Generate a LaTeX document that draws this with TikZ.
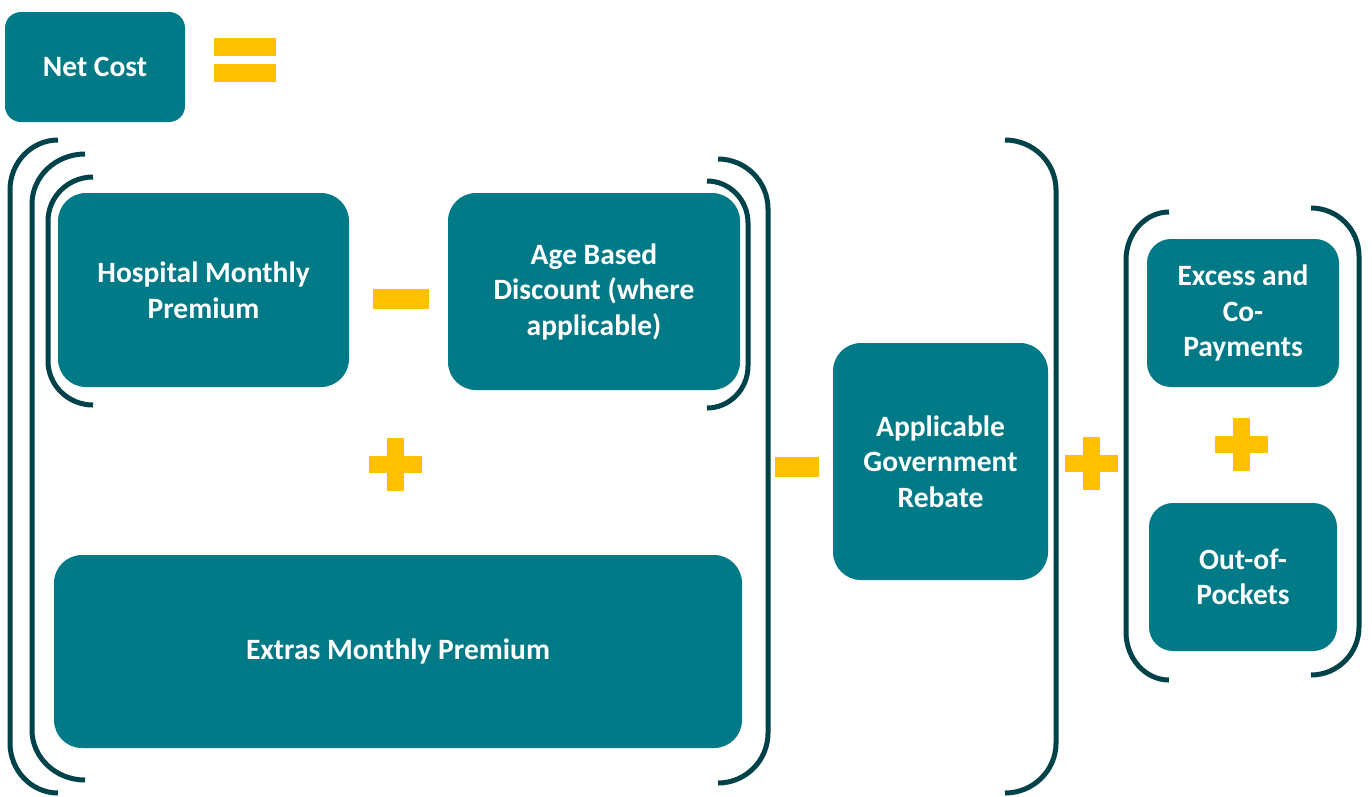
\documentclass[tikz,border=0pt]{standalone}
\usepackage{fontspec}
\setmainfont{Carlito}
\definecolor{boxc}{HTML}{007A87}
\definecolor{brc}{HTML}{00424A}
\definecolor{opc}{HTML}{FFC000}
\newcommand\brk[5]{% xe, xv, ytop, ybot, r
  \draw[brline] (#1,#3) .. controls ({#1-0.552*(#1-#2)},#3) and (#2,{#3+0.448*#5}) .. (#2,{#3+#5})
    -- (#2,{#4-#5}) .. controls (#2,{#4-0.448*#5}) and ({#1-0.552*(#1-#2)},#4) .. (#1,#4);}
\newcommand\opplus[2]{% center x, y
  \fill[opc] ({#1-26.5},{#2-8.5}) rectangle ({#1+26.5},{#2+8.5});
  \fill[opc] ({#1-8.5},{#2-26.5}) rectangle ({#1+8.5},{#2+26.5});}
\begin{document}
\begin{tikzpicture}[x=1pt,y=-1pt,
  box/.style={draw=none,fill=boxc,text=white,align=center,rounded corners=#1,
    font=\fontsize{29.5}{35.5}\selectfont\bfseries,inner sep=0pt},
  box/.default=28pt,
  brline/.style={draw=brc,line width=5pt}]
\useasboundingbox (0,0) rectangle (1372,796);
% boxes
\node[box=16pt,minimum width=180pt,minimum height=110pt] (net) at (95,67) {Net Cost};
\node[box,minimum width=291pt,minimum height=194pt] (hosp) at (203.5,290) {Hospital Monthly\\Premium};
\node[box,minimum width=292pt,minimum height=197pt] (age) at (594,291.5) {Age Based\\Discount (where\\applicable)};
\node[box,minimum width=688pt,minimum height=193pt] (extras) at (398,651.5) {Extras Monthly Premium};
\node[box,minimum width=215pt,minimum height=237pt] (rebate) at (940.5,461.5) {Applicable\\Government\\Rebate};
\node[box=24pt,minimum width=192pt,minimum height=148pt] (excess) at (1243,313) {Excess and\\Co-\\Payments};
\node[box=24pt,minimum width=188pt,minimum height=148pt] (oop) at (1243,577) {Out-of-\\Pockets};
% operators
\fill[opc] (214,38) rectangle (276,56);
\fill[opc] (214,64) rectangle (276,82);
\fill[opc] (373,289) rectangle (429,309);
\opplus{395.5}{464.5}
\fill[opc] (775,457) rectangle (819,477);
\opplus{1091.5}{463.5}
\opplus{1241.5}{444.5}
% brackets
\brk{58}{10}{140}{793}{50}
\brk{85}{32}{154}{780}{50}
\brk{718}{768}{159}{783}{50}
\brk{93}{48}{177}{405}{44}
\brk{707}{748}{181}{408}{42}
\brk{1005}{1056}{140}{793}{50}
\brk{1169}{1126}{212}{680}{48}
\brk{1311}{1359}{208}{675}{48}
\end{tikzpicture}
\end{document}
